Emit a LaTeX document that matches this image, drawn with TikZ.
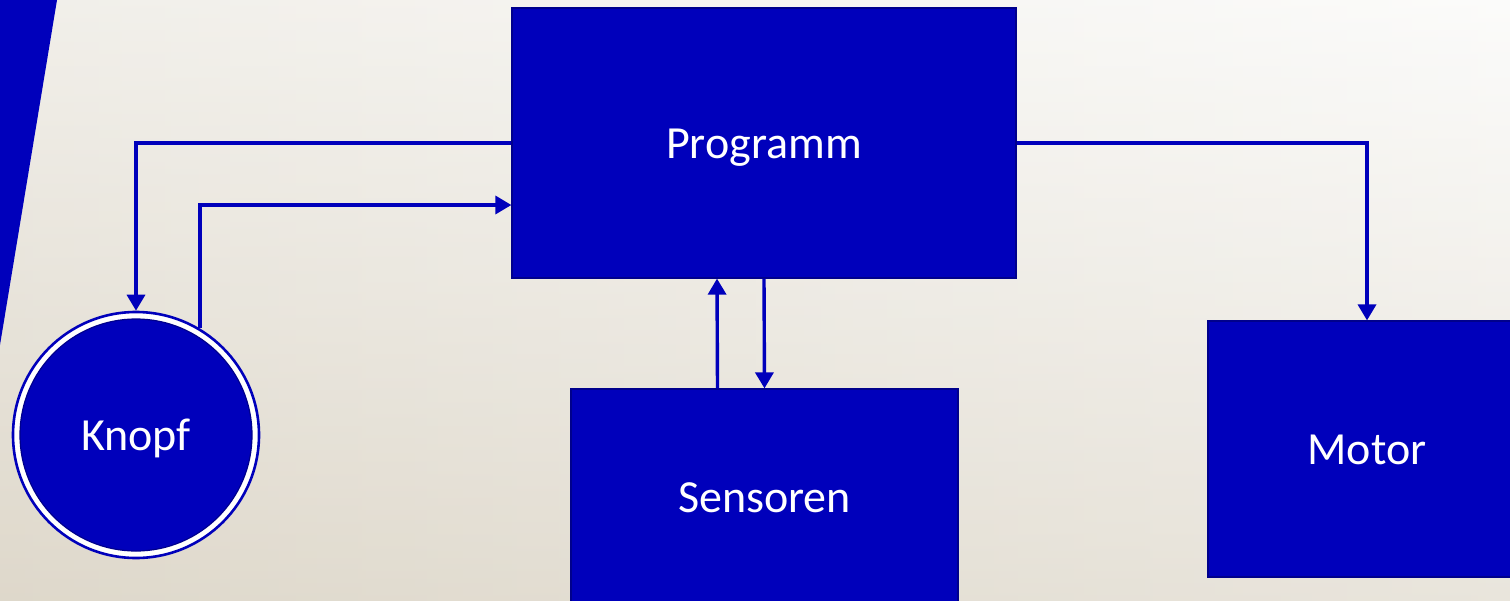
\documentclass[tikz,border=0pt]{standalone}
\usepackage{fontspec}
\setmainfont{Carlito}
\usetikzlibrary{arrows.meta,calc}
\definecolor{boxblue}{RGB}{0,0,187}
\definecolor{edgeblue}{RGB}{0,0,140}
\definecolor{bgA}{RGB}{230,226,216}
\definecolor{bgB}{RGB}{249,249,247}
\definecolor{bgC}{RGB}{214,205,188}
\begin{document}
\begin{tikzpicture}[x=0.5pt,y=-0.5pt,
  txt/.style={text=white, font=\fontsize{23}{27}\selectfont, text height=15pt, text depth=0pt},
  blk/.style={rectangle, fill=boxblue, draw=edgeblue, line width=0.6pt, inner sep=0pt, txt},
  conn/.style={draw=boxblue, line width=1.7pt, -{Triangle[length=8pt,width=9pt]}}
]
\useasboundingbox (0,0) rectangle (1510,600);
\begin{scope}
\clip (0,0) rectangle (1510,600);
\shade[left color=bgA, right color=bgB] (0,0) rectangle (1510,600);
\shade[top color=white, bottom color=bgC, opacity=0.45] (0,0) rectangle (1510,600);
\fill[boxblue] (0,0) -- (57,0) -- (0,345) -- cycle;

\node[blk, minimum width=252pt, minimum height=135pt] (prog) at (764,143) {Programm};
\node[blk, minimum width=193.5pt, minimum height=108pt] (sens) at (764.5,497) {Sensoren};
\node[blk, minimum width=159pt, minimum height=128pt] (motor) at (1367,449) {Motor};
\node[circle, fill=white, draw=boxblue, line width=1.3pt, minimum size=123pt, inner sep=0pt] (kring) at (136,435) {};
\node[circle, fill=boxblue, draw=edgeblue, line width=0.6pt, minimum size=116pt, inner sep=0pt, txt] (knopf) at (136,435) {Knopf};

\draw[conn] (prog.west) -| (kring.north);
\draw[conn] (kring.59) |- ([yshift=-31pt]prog.west);
\draw[conn] (prog.east) -| (motor.north);
\draw[conn] (prog.south) -- (sens.north);
\draw[conn] ([xshift=-23.5pt]sens.north) -- ([xshift=-23.5pt]prog.south);
\end{scope}
\end{tikzpicture}
\end{document}
